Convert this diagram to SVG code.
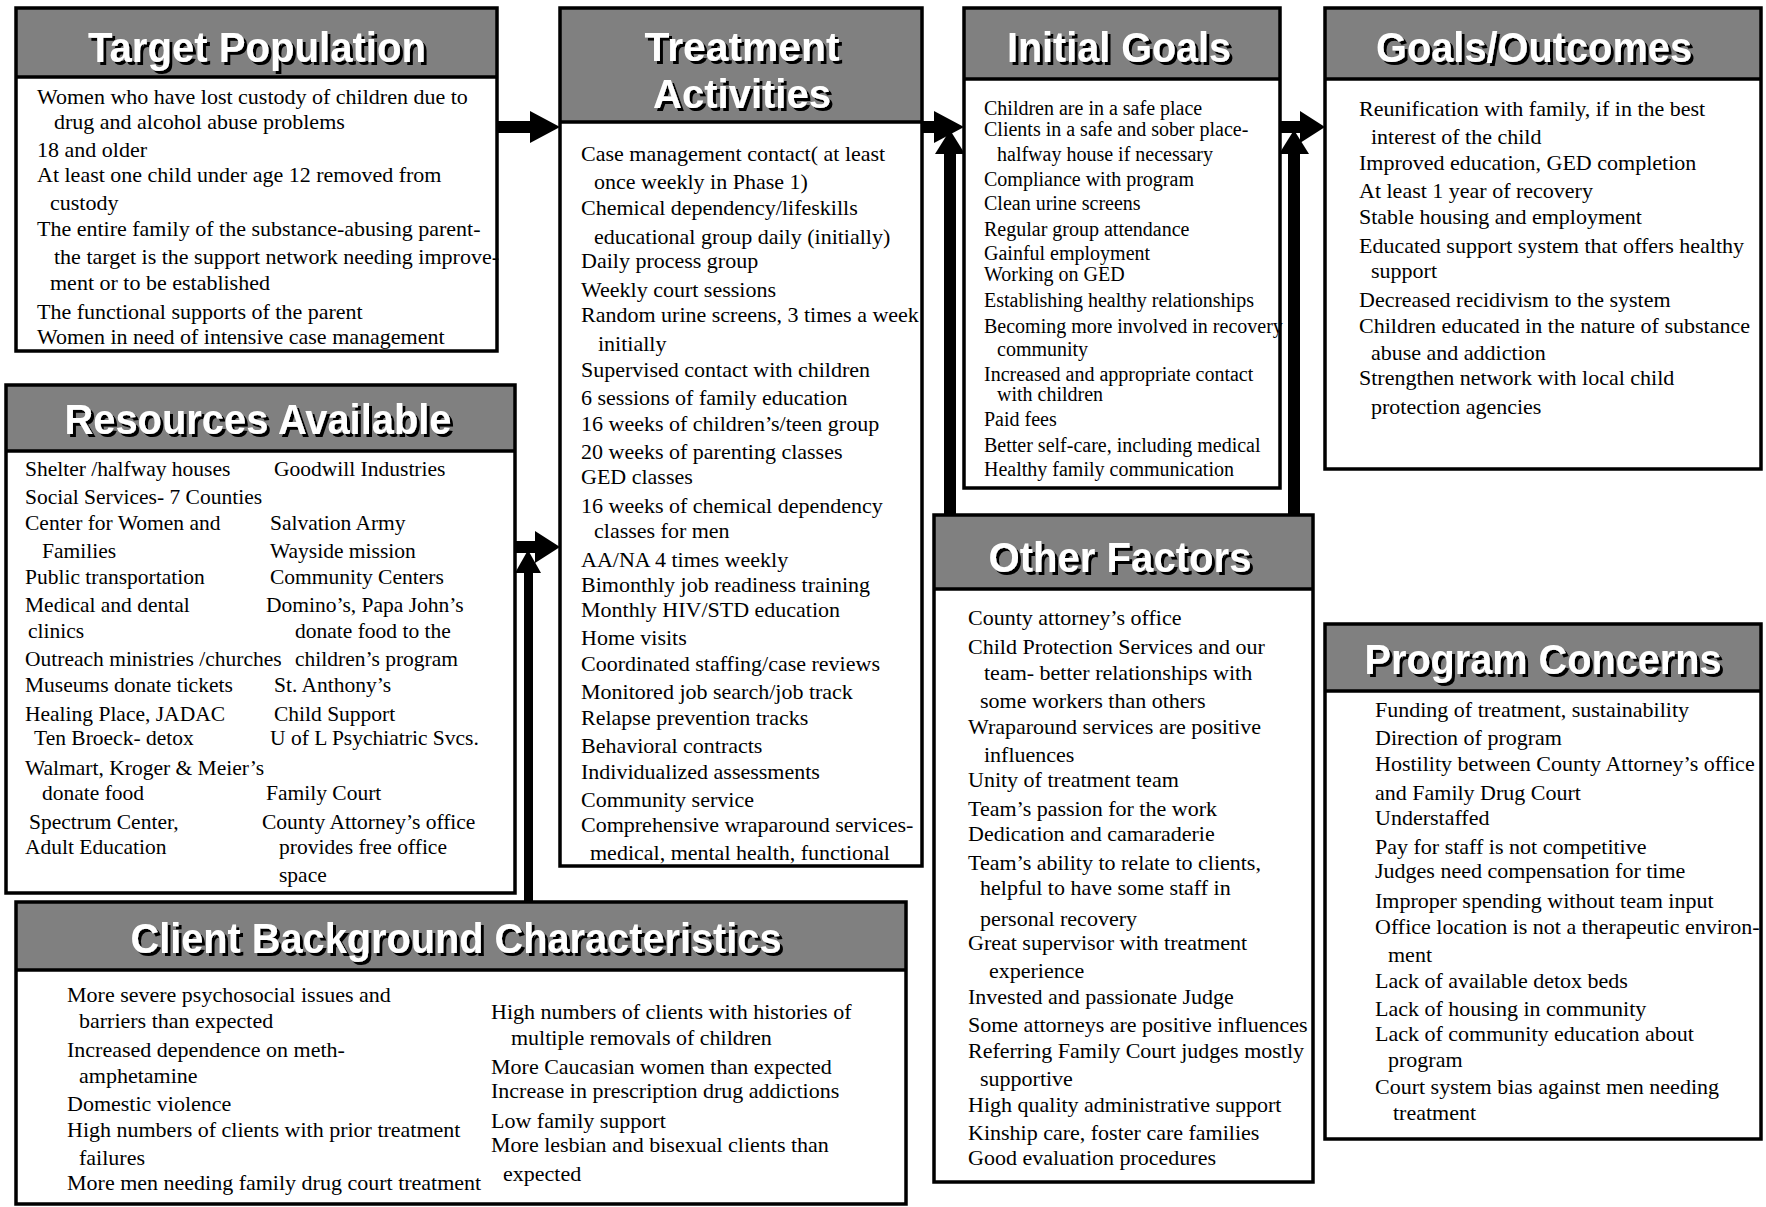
<svg xmlns="http://www.w3.org/2000/svg" width="1766" height="1207" viewBox="0 0 1766 1207">
<defs>
<filter id="shadow" x="-5%" y="-20%" width="110%" height="150%">
<feDropShadow dx="3" dy="3" stdDeviation="0" flood-color="#000" flood-opacity="1"/>
</filter>
</defs>
<style>
.bg{fill:#fff}
.box{fill:none;stroke:#000;stroke-width:3.5}
.hdr{fill:#808080}
.dv{stroke:#000;stroke-width:3.5}
.t{font-family:"Liberation Serif","Times New Roman",serif;font-size:22px;fill:#000}
.s20{font-size:20px}
.s21{font-size:21.5px}
.ttl{font-family:"Liberation Sans",Arial,sans-serif;font-weight:bold;font-size:42px;text-anchor:middle;fill:#fff;filter:url(#shadow)}
.ttl2{font-size:40px}
.con{fill:#000;stroke:none}
</style>
<rect x="0" y="0" width="1766" height="1207" fill="#fff"/>

<g id="target-population">
<rect class="bg" x="16" y="8" width="481" height="343"/>
<rect class="hdr" x="16" y="8" width="481" height="69"/>
<line class="dv" x1="16" y1="77" x2="497" y2="77"/>
<rect class="box" x="16" y="8" width="481" height="343"/>
<text class="ttl" x="257" y="62" textLength="338" lengthAdjust="spacingAndGlyphs">Target Population</text>
<text class="t" x="37" y="104">Women who have lost custody of children due to</text>
<text class="t" x="54" y="129">drug and alcohol abuse problems</text>
<text class="t" x="37" y="157">18 and older</text>
<text class="t" x="37" y="182">At least one child under age 12 removed from</text>
<text class="t" x="50" y="210">custody</text>
<text class="t" x="37" y="236">The entire family of the substance-abusing parent-</text>
<text class="t" x="54" y="264">the target is the support network needing improve-</text>
<text class="t" x="50" y="290">ment or to be established</text>
<text class="t" x="37" y="319">The functional supports of the parent</text>
<text class="t" x="37" y="344">Women in need of intensive case management</text>
</g>

<g id="treatment-activities">
<rect class="bg" x="560" y="8" width="362" height="858"/>
<rect class="hdr" x="560" y="8" width="362" height="114"/>
<line class="dv" x1="560" y1="122" x2="922" y2="122"/>
<rect class="box" x="560" y="8" width="362" height="858"/>
<text class="ttl ttl2" x="742" y="61" textLength="195" lengthAdjust="spacingAndGlyphs">Treatment</text>
<text class="ttl ttl2" x="742" y="108" textLength="178" lengthAdjust="spacingAndGlyphs">Activities</text>
<text class="t" x="581" y="161">Case management contact( at least</text>
<text class="t" x="594" y="189">once weekly in Phase 1)</text>
<text class="t" x="581" y="215">Chemical dependency/lifeskills</text>
<text class="t" x="594" y="244">educational group daily (initially)</text>
<text class="t" x="581" y="268">Daily  process group</text>
<text class="t" x="581" y="297">Weekly court sessions</text>
<text class="t" x="581" y="322">Random urine screens, 3 times a week</text>
<text class="t" x="598" y="351">initially</text>
<text class="t" x="581" y="377">Supervised contact with children</text>
<text class="t" x="581" y="405">6 sessions of family education</text>
<text class="t" x="581" y="431">16 weeks of children’s/teen group</text>
<text class="t" x="581" y="459">20 weeks of parenting classes</text>
<text class="t" x="581" y="484">GED classes</text>
<text class="t" x="581" y="513">16 weeks of chemical dependency</text>
<text class="t" x="594" y="538">classes for men</text>
<text class="t" x="581" y="567">AA/NA 4 times weekly</text>
<text class="t" x="581" y="592">Bimonthly job readiness training</text>
<text class="t" x="581" y="617">Monthly HIV/STD education</text>
<text class="t" x="581" y="645">Home visits</text>
<text class="t" x="581" y="671">Coordinated staffing/case reviews</text>
<text class="t" x="581" y="699">Monitored job search/job track</text>
<text class="t" x="581" y="725">Relapse prevention tracks</text>
<text class="t" x="581" y="753">Behavioral contracts</text>
<text class="t" x="581" y="779">Individualized assessments</text>
<text class="t" x="581" y="807">Community service</text>
<text class="t" x="581" y="832">Comprehensive wraparound services-</text>
<text class="t" x="590" y="860">medical, mental health, functional</text>
</g>

<g id="initial-goals">
<rect class="bg" x="964" y="8" width="316" height="480"/>
<rect class="hdr" x="964" y="8" width="316" height="71"/>
<line class="dv" x1="964" y1="79" x2="1280" y2="79"/>
<rect class="box" x="964" y="8" width="316" height="480"/>
<text class="ttl" x="1119" y="62" textLength="224" lengthAdjust="spacingAndGlyphs">Initial Goals</text>
<text class="t s20" x="984" y="115">Children are in a safe place</text>
<text class="t s20" x="984" y="136">Clients in a safe and sober place-</text>
<text class="t s20" x="997" y="161">halfway house if necessary</text>
<text class="t s20" x="984" y="186">Compliance with program</text>
<text class="t s20" x="984" y="210">Clean urine screens</text>
<text class="t s20" x="984" y="236">Regular group attendance</text>
<text class="t s20" x="984" y="260">Gainful employment</text>
<text class="t s20" x="984" y="281">Working on GED</text>
<text class="t s20" x="984" y="307">Establishing healthy relationships</text>
<text class="t s20" x="984" y="333">Becoming more involved in recovery</text>
<text class="t s20" x="997" y="356">community</text>
<text class="t s20" x="984" y="381">Increased and appropriate contact</text>
<text class="t s20" x="997" y="401">with children</text>
<text class="t s20" x="984" y="426">Paid fees</text>
<text class="t s20" x="984" y="452">Better self-care, including medical</text>
<text class="t s20" x="984" y="476">Healthy family communication</text>
</g>

<g id="goals-outcomes">
<rect class="bg" x="1325" y="8" width="436" height="461"/>
<rect class="hdr" x="1325" y="8" width="436" height="71"/>
<line class="dv" x1="1325" y1="79" x2="1761" y2="79"/>
<rect class="box" x="1325" y="8" width="436" height="461"/>
<text class="ttl" x="1534" y="62" textLength="316" lengthAdjust="spacingAndGlyphs">Goals/Outcomes</text>
<text class="t" x="1359" y="116">Reunification with family, if in the best</text>
<text class="t" x="1371" y="144">interest of the child</text>
<text class="t" x="1359" y="170">Improved education, GED completion</text>
<text class="t" x="1359" y="198">At least 1 year of recovery</text>
<text class="t" x="1359" y="224">Stable housing and employment</text>
<text class="t" x="1359" y="253">Educated support system that offers healthy</text>
<text class="t" x="1371" y="278">support</text>
<text class="t" x="1359" y="307">Decreased recidivism to the system</text>
<text class="t" x="1359" y="333">Children educated in the nature of substance</text>
<text class="t" x="1371" y="360">abuse and addiction</text>
<text class="t" x="1359" y="385">Strengthen network with local child</text>
<text class="t" x="1371" y="414">protection agencies</text>
</g>

<g id="resources-available">
<rect class="bg" x="6" y="385" width="509" height="508"/>
<rect class="hdr" x="6" y="385" width="509" height="66"/>
<line class="dv" x1="6" y1="451" x2="515" y2="451"/>
<rect class="box" x="6" y="385" width="509" height="508"/>
<text class="ttl" x="258" y="434" textLength="387" lengthAdjust="spacingAndGlyphs">Resources Available</text>
<text class="t s21" x="25" y="476">Shelter /halfway houses</text>
<text class="t s21" x="274" y="476">Goodwill Industries</text>
<text class="t s21" x="25" y="504">Social Services- 7 Counties</text>
<text class="t s21" x="25" y="530">Center for Women and</text>
<text class="t s21" x="270" y="530">Salvation Army</text>
<text class="t s21" x="42" y="558">Families</text>
<text class="t s21" x="270" y="558">Wayside mission</text>
<text class="t s21" x="25" y="584">Public transportation</text>
<text class="t s21" x="270" y="584">Community Centers</text>
<text class="t s21" x="25" y="612">Medical and dental</text>
<text class="t s21" x="266" y="612">Domino’s, Papa John’s</text>
<text class="t s21" x="28" y="638">clinics</text>
<text class="t s21" x="295" y="638">donate food to the</text>
<text class="t s21" x="25" y="666">Outreach ministries /churches</text>
<text class="t s21" x="295" y="666">children’s program</text>
<text class="t s21" x="25" y="692">Museums donate tickets</text>
<text class="t s21" x="274" y="692">St. Anthony’s</text>
<text class="t s21" x="25" y="721">Healing Place, JADAC</text>
<text class="t s21" x="274" y="721">Child Support</text>
<text class="t s21" x="34" y="745">Ten Broeck- detox</text>
<text class="t s21" x="270" y="745">U of L Psychiatric Svcs.</text>
<text class="t s21" x="25" y="775">Walmart, Kroger &amp; Meier’s</text>
<text class="t s21" x="42" y="800">donate food</text>
<text class="t s21" x="266" y="800">Family Court</text>
<text class="t s21" x="29" y="829">Spectrum Center,</text>
<text class="t s21" x="262" y="829">County Attorney’s office</text>
<text class="t s21" x="25" y="854">Adult Education</text>
<text class="t s21" x="279" y="854">provides free office</text>
<text class="t s21" x="279" y="882">space</text>
</g>

<g id="client-background">
<rect class="bg" x="16" y="902" width="890" height="302"/>
<rect class="hdr" x="16" y="902" width="890" height="68"/>
<line class="dv" x1="16" y1="970" x2="906" y2="970"/>
<rect class="box" x="16" y="902" width="890" height="302"/>
<text class="ttl" x="456" y="953" textLength="651" lengthAdjust="spacingAndGlyphs">Client Background Characteristics</text>
<text class="t" x="67" y="1002">More severe psychosocial issues and</text>
<text class="t" x="79" y="1028">barriers than expected</text>
<text class="t" x="67" y="1057">Increased dependence on meth-</text>
<text class="t" x="79" y="1083">amphetamine</text>
<text class="t" x="67" y="1111">Domestic violence</text>
<text class="t" x="67" y="1137">High numbers of clients with prior treatment</text>
<text class="t" x="79" y="1165">failures</text>
<text class="t" x="67" y="1190">More men needing family drug court treatment</text>
<text class="t" x="491" y="1019">High numbers of clients with histories of</text>
<text class="t" x="511" y="1045">multiple removals of children</text>
<text class="t" x="491" y="1074">More Caucasian women than expected</text>
<text class="t" x="491" y="1098">Increase in prescription drug addictions</text>
<text class="t" x="491" y="1128">Low family support</text>
<text class="t" x="491" y="1152">More lesbian and bisexual clients than</text>
<text class="t" x="503" y="1181">expected</text>
</g>

<g id="other-factors">
<rect class="bg" x="934" y="515" width="379" height="667"/>
<rect class="hdr" x="934" y="515" width="379" height="74"/>
<line class="dv" x1="934" y1="589" x2="1313" y2="589"/>
<rect class="box" x="934" y="515" width="379" height="667"/>
<text class="ttl" x="1120" y="572" textLength="263" lengthAdjust="spacingAndGlyphs">Other Factors</text>
<text class="t" x="968" y="625">County attorney’s office</text>
<text class="t" x="968" y="654">Child Protection Services and our</text>
<text class="t" x="984" y="680">team- better relationships with</text>
<text class="t" x="980" y="708">some workers than others</text>
<text class="t" x="968" y="734">Wraparound services are positive</text>
<text class="t" x="984" y="762">influences</text>
<text class="t" x="968" y="787">Unity of treatment team</text>
<text class="t" x="968" y="816">Team’s passion for the work</text>
<text class="t" x="968" y="841">Dedication and camaraderie</text>
<text class="t" x="968" y="870">Team’s ability to relate to clients,</text>
<text class="t" x="980" y="895">helpful to have some staff in</text>
<text class="t" x="980" y="926">personal recovery</text>
<text class="t" x="968" y="950">Great supervisor with treatment</text>
<text class="t" x="989" y="978">experience</text>
<text class="t" x="968" y="1004">Invested and passionate Judge</text>
<text class="t" x="968" y="1032">Some attorneys are positive influences</text>
<text class="t" x="968" y="1058">Referring Family Court judges mostly</text>
<text class="t" x="980" y="1086">supportive</text>
<text class="t" x="968" y="1112">High quality administrative support</text>
<text class="t" x="968" y="1140">Kinship care, foster care families</text>
<text class="t" x="968" y="1165">Good evaluation procedures</text>
</g>

<g id="program-concerns">
<rect class="bg" x="1325" y="624" width="436" height="515"/>
<rect class="hdr" x="1325" y="624" width="436" height="67"/>
<line class="dv" x1="1325" y1="691" x2="1761" y2="691"/>
<rect class="box" x="1325" y="624" width="436" height="515"/>
<text class="ttl" x="1543" y="674" textLength="357" lengthAdjust="spacingAndGlyphs">Program Concerns</text>
<text class="t" x="1375" y="717">Funding of treatment, sustainability</text>
<text class="t" x="1375" y="745">Direction of program</text>
<text class="t" x="1375" y="771">Hostility between County Attorney’s office</text>
<text class="t" x="1375" y="800">and Family Drug Court</text>
<text class="t" x="1375" y="825">Understaffed</text>
<text class="t" x="1375" y="854">Pay for staff is not competitive</text>
<text class="t" x="1375" y="878">Judges need compensation for time</text>
<text class="t" x="1375" y="908">Improper spending without team input</text>
<text class="t" x="1375" y="934">Office location is not a therapeutic environ-</text>
<text class="t" x="1388" y="962">ment</text>
<text class="t" x="1375" y="988">Lack of available detox beds</text>
<text class="t" x="1375" y="1016">Lack of housing in community</text>
<text class="t" x="1375" y="1041">Lack of community education about</text>
<text class="t" x="1388" y="1067">program</text>
<text class="t" x="1375" y="1094">Court system bias against men needing</text>
<text class="t" x="1393" y="1120">treatment</text>
</g>

<g id="connectors">
<rect class="con" x="497" y="121" width="36" height="12"/>
<polygon class="con" points="530,111 560,127 530,143"/>
<rect class="con" x="922" y="121" width="14" height="12"/>
<polygon class="con" points="934,111 964,127 934,143"/>
<rect class="con" x="944" y="150" width="12" height="365"/>
<polygon class="con" points="935,154 950,130 965,154"/>
<rect class="con" x="1280" y="121" width="22" height="12"/>
<polygon class="con" points="1300,111 1325,127 1300,143"/>
<rect class="con" x="1288" y="150" width="12" height="365"/>
<polygon class="con" points="1279,154 1294,130 1309,154"/>
<rect class="con" x="515" y="541" width="22" height="12"/>
<polygon class="con" points="535,531 560,547 535,563"/>
<rect class="con" x="524" y="568" width="9" height="334"/>
<polygon class="con" points="515,573 528,550 541,573"/>
</g>
</svg>
